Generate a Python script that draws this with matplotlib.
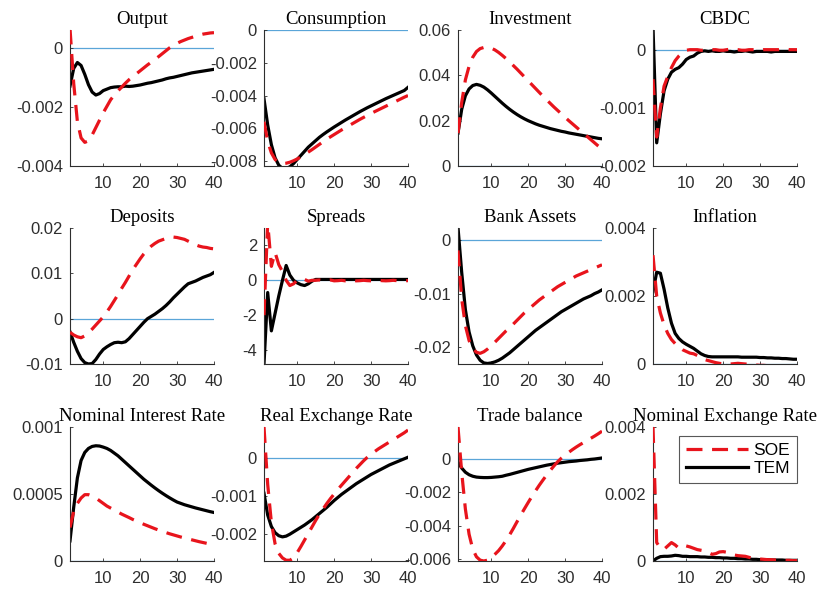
import numpy as np
import matplotlib
matplotlib.use("Agg")
import matplotlib.pyplot as plt
from matplotlib.ticker import FuncFormatter

# Impulse responses over 40 quarters: SOE (red dashed) vs TEM (black solid)
periods = np.arange(1, 41)

titles = ["Output", "Consumption", "Investment", "CBDC",
          "Deposits", "Spreads", "Bank Assets", "Inflation",
          "Nominal Interest Rate", "Real Exchange Rate", "Trade balance",
          "Nominal Exchange Rate"]

output_soe = np.array([6.5, -12, -25, -30.5, -32, -31.5, -29.5, -27, -24.5, -22,
                       -19.8, -17.6, -16, -14.6, -13.3, -12, -10.8, -9.8, -8.8, -7.8,
                       -6.8, -5.8, -4.9, -4, -3, -2, -1, 0, 0.8, 1.5,
                       2.1, 2.6, 3.1, 3.5, 3.9, 4.3, 4.6, 4.8, 5, 5.1]) * 1e-4
output_tem = np.array([-13, -7, -5, -6, -9, -12.5, -15, -16, -15.5, -14.5,
                       -14, -13.5, -13.3, -13.2, -13.2, -13, -13.1, -13, -12.8, -12.6,
                       -12.3, -12, -11.8, -11.5, -11.2, -10.9, -10.5, -10.2, -10, -9.7,
                       -9.4, -9.1, -8.8, -8.5, -8.3, -8.1, -7.9, -7.7, -7.5, -7.3]) * 1e-4

consumption_soe = np.array([-56, -68, -75, -79, -81, -81.5, -81.3, -80.7, -79.8, -78.7,
                            -77.4, -76, -74.5, -73, -71.4, -69.8, -68.2, -66.6, -65.2, -63.8,
                            -62.4, -61, -59.7, -58.4, -57.1, -55.8, -54.5, -53.3, -52.1, -50.9,
                            -49.8, -48.7, -47.6, -46.5, -45.4, -44.3, -43.2, -42.1, -41, -40]) * 1e-4
consumption_tem = np.array([-42, -58, -70, -78, -82.5, -84.5, -84.5, -83.5, -81.5, -79,
                            -76.5, -74, -71.5, -69.5, -67.5, -65.5, -63.8, -62.2, -60.7, -59.2,
                            -57.8, -56.4, -55, -53.7, -52.4, -51.1, -49.8, -48.6, -47.4, -46.3,
                            -45.2, -44.1, -43, -41.9, -40.9, -39.9, -38.9, -37.9, -36.9, -35]) * 1e-4

investment_soe = np.array([14.5, 28, 38, 44, 48, 50.5, 51.8, 52.3, 52.4, 52,
                           51.2, 50.1, 48.8, 47.4, 45.9, 44.3, 42.7, 41, 39.3, 37.6,
                           35.9, 34.2, 32.5, 30.8, 29.2, 27.6, 26, 24.5, 23, 21.5,
                           20, 18.6, 17.2, 15.8, 14.4, 13, 11.6, 10.2, 8.8, 7.5]) * 1e-3
investment_tem = np.array([14.5, 25, 31, 34, 35.5, 36, 35.6, 34.8, 33.6, 32.2,
                           30.7, 29.2, 27.7, 26.3, 25, 23.8, 22.7, 21.7, 20.8, 20,
                           19.3, 18.6, 18, 17.5, 17, 16.5, 16.1, 15.7, 15.3, 15,
                           14.6, 14.3, 14, 13.7, 13.4, 13.1, 12.8, 12.5, 12.2, 12]) * 1e-3

cbdc_soe = np.array([-50, -150, -100, -62, -45, -30, -18, -10, -4, 0,
                     1, 1, 1, 0, 0, 1, 1, 1, 0, 0,
                     1, 2, 1, 1, 0, 0, 1, 1, 1, 0,
                     1, 1, 1, 1, 1, 2, 2, 1, 1, 1]) * 1e-5
cbdc_tem = np.array([40, -160, -110, -70, -50, -38, -33, -30, -24, -16,
                     -12, -10, -5, -2, -1, -2, -1, -2, -2, -1,
                     -2, -2, -3, -2, -2, -1, -2, -3, -2, -2,
                     -2, -2, -3, -2, -2, -2, -2, -2, -2, -2]) * 1e-5

deposits_soe = np.array([-30, -36, -40, -42, -38, -31, -23, -14, -5, 4,
                         15, 27, 40, 53, 67, 80, 94, 108, 120, 132,
                         143, 152, 160, 166, 171, 174, 177, 179, 180, 179,
                         177, 175, 171, 167, 163, 160, 158, 157, 155, 154]) * 1e-4
deposits_tem = np.array([-29, -52, -72, -88, -97, -100, -99, -90, -78, -68,
                         -62, -57, -53, -52, -53, -51, -44, -35, -26, -17,
                         -8, 0, 5, 10, 16, 22, 29, 37, 46, 54,
                         62, 70, 77, 80, 83, 87, 91, 94, 97, 102]) * 1e-4

spreads_soe = np.array([-2.0, 3.3, 0.8, 1.6, 0.9, 0.5, 0.0, -0.3, -0.2, 0.0,
                        0.1, 0.05, -0.05, 0.0, 0.0, 0.02, -0.02, 0.0, 0.02, -0.03,
                        -0.02, 0.0, -0.03, -0.02, 0.0, -0.03, -0.02, 0.0, -0.02, -0.03,
                        -0.02, 0.0, -0.02, -0.03, -0.02, 0.0, -0.02, -0.03, -0.02, -0.02])
spreads_tem = np.array([-4.8, -0.7, -2.9, -1.9, -0.9, 0.0, 0.85, 0.3, 0.0, -0.15,
                        -0.25, -0.3, -0.2, -0.05, 0.05, 0.05, 0.05, 0.05, 0.05, 0.05,
                        0.05, 0.05, 0.05, 0.05, 0.05, 0.05, 0.05, 0.05, 0.05, 0.05,
                        0.05, 0.05, 0.05, 0.05, 0.05, 0.05, 0.05, 0.05, 0.05, 0.05])

bank_soe = np.array([-19, -110, -160, -188, -203, -210, -212, -209, -204, -198,
                     -191, -184, -177, -170, -164, -157, -150, -143, -136, -130,
                     -124, -118, -112, -107, -102, -97, -92, -87, -83, -79,
                     -75, -71, -67, -64, -61, -58, -55, -52, -49, -46]) * 1e-4
bank_tem = np.array([24, -60, -130, -172, -198, -215, -225, -230, -231, -230,
                     -228, -225, -221, -216, -211, -205, -199, -193, -187, -181,
                     -175, -169, -164, -159, -154, -149, -144, -139, -134, -130,
                     -126, -122, -118, -114, -110, -107, -104, -100, -97, -93]) * 1e-4

inflation_soe = np.array([320, 200, 150, 115, 90, 72, 60, 50, 42, 37,
                          32, 30, 25, 18, 13, 10, 7, 4, 2, 0,
                          -1, 0, 1, 2, 1, 0, -1, -2, -3, -4,
                          -4, -5, -5, -6, -6, -6, -7, -7, -7, -7]) * 1e-5
inflation_tem = np.array([213, 270, 267, 220, 165, 120, 90, 75, 65, 58,
                          52, 46, 38, 30, 25, 22, 21, 21, 21, 21,
                          21, 21, 21, 21, 20, 20, 20, 20, 20, 19,
                          19, 18, 18, 17, 17, 16, 16, 15, 14, 14]) * 1e-5

nominal_rate_soe = np.array([25, 37, 43, 47, 49.5, 49.5, 48.5, 47, 45, 43,
                             41, 39.5, 38, 36.5, 35, 33.7, 32.4, 31, 29.8, 28.6,
                             27.4, 26.3, 25.2, 24.1, 23.1, 22.1, 21.2, 20.3, 19.5, 18.7,
                             17.9, 17.2, 16.5, 15.8, 15.1, 14.4, 13.8, 13.2, 12.6, 12]) * 1e-5
nominal_rate_tem = np.array([15, 40, 62, 75, 81, 84, 85.5, 86, 85.8, 85,
                             84, 82.5, 80.5, 78.5, 76, 73.5, 71, 68.5, 66, 63.5,
                             61, 58.8, 56.6, 54.5, 52.5, 50.6, 48.8, 47.1, 45.5, 44,
                             43, 42, 41.2, 40.4, 39.6, 38.9, 38.2, 37.5, 36.8, 36.2]) * 1e-5

real_fx_soe = np.array([80, -70, -170, -225, -250, -262, -268, -268, -262, -248,
                        -232, -215, -198, -181, -164, -148, -134, -120, -107, -95,
                        -83, -72, -61, -50, -39, -28, -18, -8, 1, 9,
                        16, 23, 29, 35, 41, 47, 53, 59, 65, 72]) * 1e-5
real_fx_tem = np.array([-93, -150, -180, -196, -204, -207, -205, -200, -194, -188,
                        -182, -176, -169, -162, -154, -146, -138, -130, -121, -112,
                        -104, -96, -89, -82, -75, -68, -62, -56, -50, -44,
                        -39, -34, -29, -24, -19, -15, -11, -7, -3, 1]) * 1e-5

trade_soe = np.array([190, -80, -300, -450, -540, -585, -605, -610, -605, -590,
                      -570, -548, -520, -488, -453, -415, -375, -336, -298, -261,
                      -225, -191, -158, -127, -97, -69, -42, -17, 4, 22,
                      39, 55, 70, 84, 97, 110, 123, 136, 150, 165]) * 1e-5
trade_tem = np.array([-20, -55, -80, -95, -104, -109, -111, -112, -112, -111,
                      -109, -107, -104, -98, -93, -87, -81, -75, -69, -63,
                      -58, -53, -48, -43, -38, -34, -30, -26, -23, -20,
                      -17, -15, -13, -10, -8, -6, -3, -1, 2, 5]) * 1e-5

nominal_fx_soe = np.array([400, 55, 38, 35, 45, 55, 48, 38, 42, 45,
                           42, 38, 34, 32, 30, 25, 20, 22, 27, 28,
                           26, 22, 18, 16, 15, 14, 11, 8, 7, 6,
                           5, 4, 4, 3, 3, 2, 2, 2, 1, 1]) * 1e-5
nominal_fx_tem = np.array([0, 8, 13, 14, 14, 15, 17, 16, 14, 14,
                           13, 13, 13, 12, 12, 11, 11, 10, 10, 9,
                           9, 8, 8, 7, 7, 6, 6, 5, 5, 4,
                           4, 4, 3, 3, 3, 3, 2, 2, 2, 2]) * 1e-5

soe_series = [output_soe, consumption_soe, investment_soe, cbdc_soe,
              deposits_soe, spreads_soe, bank_soe, inflation_soe,
              nominal_rate_soe, real_fx_soe, trade_soe, nominal_fx_soe]
tem_series = [output_tem, consumption_tem, investment_tem, cbdc_tem,
              deposits_tem, spreads_tem, bank_tem, inflation_tem,
              nominal_rate_tem, real_fx_tem, trade_tem, nominal_fx_tem]

y_limits = [(-0.004, 0.0006), (-0.0083, 0.0), (0.0, 0.06), (-0.002, 0.00035),
            (-0.01, 0.02), (-4.8, 3.0), (-0.0232, 0.0023), (0.0, 0.004),
            (0.0, 0.001), (-0.0027, 0.0008), (-0.0061, 0.0019), (0.0, 0.004)]
y_ticks = [[-0.004, -0.002, 0], [-0.008, -0.006, -0.004, -0.002, 0],
           [0, 0.02, 0.04, 0.06], [-0.002, -0.001, 0],
           [-0.01, 0, 0.01, 0.02], [-4, -2, 0, 2],
           [-0.02, -0.01, 0], [0, 0.002, 0.004],
           [0, 0.0005, 0.001], [-0.002, -0.001, 0],
           [-0.006, -0.004, -0.002, 0], [0, 0.002, 0.004]]
x_ticks = [10, 20, 30, 40]

W, H = 826, 592
col_left = [70, 264, 458, 653]
row_span = [(30, 166), (228, 364), (427, 561)]
ax_w = 144

axis_color = "#2e2e2e"
zero_color = "#5aa5d8"
sans = ["Liberation Sans", "DejaVu Sans"]
serif = ["Liberation Serif", "DejaVu Serif"]

fig = plt.figure(figsize=(W / 100, H / 100), dpi=100)

fmt = FuncFormatter(lambda v, pos: "%g" % v)

for i in range(12):
    r, c = divmod(i, 4)
    top, bot = row_span[r]
    ax = fig.add_axes([col_left[c] / W, 1 - bot / H, ax_w / W, (bot - top) / H])
    ax.axhline(0, color=zero_color, lw=0.9, zorder=1)
    ax.plot(periods, soe_series[i], color="#e8141c", lw=2.3, dashes=(5, 3),
            zorder=3, label="SOE")
    ax.plot(periods, tem_series[i], color="black", lw=2.3, zorder=2, label="TEM")
    ax.set_xlim(1, 40)
    ax.set_ylim(*y_limits[i])
    ax.set_xticks(x_ticks)
    ax.set_yticks(y_ticks[i])
    ax.yaxis.set_major_formatter(fmt)
    for side in ("top", "right"):
        ax.spines[side].set_visible(False)
    for side in ("left", "bottom"):
        ax.spines[side].set_color(axis_color)
        ax.spines[side].set_linewidth(0.8)
    ax.tick_params(direction="in", length=2, width=0.6, colors=axis_color,
                   labelsize=12)
    ax.tick_params(axis="x", pad=7)
    ax.tick_params(axis="y", pad=5)
    for lab in ax.get_xticklabels() + ax.get_yticklabels():
        lab.set_family(sans)
        lab.set_color(axis_color)
    ax.set_title(titles[i], family=serif, fontsize=13.5, pad=4, color="black")
    ax.patch.set_alpha(0)

    if i == 11:
        leg = ax.legend(loc="upper right", bbox_to_anchor=(1.0, 0.935),
                        prop={"family": sans, "size": 12.5}, handlelength=3.6,
                        frameon=True, fancybox=False, borderpad=0.4,
                        labelspacing=0.2, handletextpad=0.3, borderaxespad=0)
        leg.get_frame().set_edgecolor(axis_color)
        leg.get_frame().set_linewidth(0.8)

fig.savefig("out.png", dpi=100)
